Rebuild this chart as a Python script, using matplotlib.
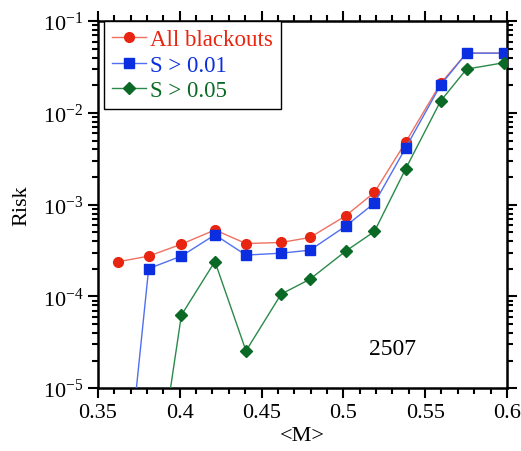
import numpy as np
import matplotlib
matplotlib.use("Agg")
import matplotlib.pyplot as plt
from matplotlib.ticker import FixedLocator, LogLocator, NullFormatter

plt.rcParams['font.family'] = ['Liberation Serif', 'DejaVu Serif']
plt.rcParams['mathtext.fontset'] = 'custom'
plt.rcParams['mathtext.rm'] = 'Liberation Serif'
plt.rcParams['mathtext.it'] = 'Liberation Serif:italic'

# mean loading <M> for each bin
m_all = [0.362, 0.381, 0.401, 0.4215, 0.4405, 0.462, 0.4796, 0.5014, 0.519, 0.538, 0.5595, 0.5753, 0.598]
risk_all = [2.38e-4, 2.75e-4, 3.71e-4, 5.3e-4, 3.77e-4, 3.87e-4, 4.39e-4, 7.55e-4, 1.36e-3, 4.77e-3, 0.0210, 0.0448, 0.0448]

m_s01 = [0.362, 0.381, 0.401, 0.4215, 0.4405, 0.462, 0.4796, 0.5014, 0.519, 0.538, 0.5595, 0.5753, 0.598]
risk_s01 = [1.0e-7, 2.01e-4, 2.75e-4, 4.69e-4, 2.82e-4, 2.96e-4, 3.19e-4, 5.83e-4, 1.04e-3, 4.13e-3, 0.0202, 0.0448, 0.0448]

m_s05 = [0.381, 0.401, 0.4215, 0.4405, 0.462, 0.4796, 0.5014, 0.519, 0.538, 0.5595, 0.5753, 0.598]
risk_s05 = [2.5e-7, 6.25e-5, 2.40e-4, 2.55e-5, 1.06e-4, 1.54e-4, 3.11e-4, 5.1e-4, 2.44e-3, 0.0135, 0.0300, 0.0352]

xticks = [0.35, 0.4, 0.45, 0.5, 0.55, 0.6]
xticklabels = ['0.35', '0.4', '0.45', '0.5', '0.55', '0.6']

fig = plt.figure(figsize=(5.21, 4.52), dpi=100)
fig.subplots_adjust(left=0.188, right=0.973, top=0.951, bottom=0.139)
ax = fig.add_subplot(111)

ax.plot(m_all, risk_all, '-', color='#f07060', lw=1.0, zorder=3)
ax.plot(m_all, risk_all, 'o', color='#e82510', ms=7, mec='#e82510', zorder=3.1)
ax.plot(m_s01, risk_s01, '-', color='#5070f0', lw=1.0, zorder=4)
ax.plot(m_s01, risk_s01, 's', color='#0a2ee0', ms=7, zorder=4.1)
ax.plot(m_s05, risk_s05, '-', color='#2a8a4a', lw=1.0, zorder=5)
ax.plot(m_s05, risk_s05, 'D', color='#0a6a25', ms=6.5, zorder=5.1)

# legend proxies
h1, = ax.plot([], [], '-o', color='#f07060', mfc='#e82510', mec='#e82510', ms=7, lw=1.0)
h2, = ax.plot([], [], '-s', color='#5070f0', mfc='#0a2ee0', mec='#0a2ee0', ms=7, lw=1.0)
h3, = ax.plot([], [], '-D', color='#2a8a4a', mfc='#0a6a25', mec='#0a6a25', ms=6.5, lw=1.0)
leg = ax.legend([h1, h2, h3], ['All blackouts', 'S > 0.01', 'S > 0.05'],
                loc='upper left', bbox_to_anchor=(0.015, 1.0), fontsize=16.5,
                handlelength=1.5, handletextpad=0.15, borderpad=0.35,
                labelspacing=0.2, fancybox=False, framealpha=1,
                edgecolor='black', borderaxespad=0.0)
leg.get_frame().set_linewidth(1.0)
for txt, c in zip(leg.get_texts(), ['#e82510', '#0a2ee0', '#0a6a25']):
    txt.set_color(c)

ax.set_yscale('log')
ax.set_xlim(0.35, 0.6)
ax.set_ylim(1e-5, 1e-1)

ax.xaxis.set_major_locator(FixedLocator(xticks))
ax.set_xticklabels(xticklabels)
ax.xaxis.set_minor_locator(FixedLocator(np.arange(0.35, 0.6001, 0.01)))
ax.yaxis.set_major_locator(LogLocator(base=10, numticks=10))
ax.yaxis.set_minor_locator(LogLocator(base=10, subs=np.arange(2, 10), numticks=10))
ax.yaxis.set_minor_formatter(NullFormatter())

ax.tick_params(which='both', direction='out', top=True, right=True, width=1.5,
               labelsize=16)
ax.tick_params(which='major', length=7)
ax.tick_params(which='minor', length=4)
for s in ax.spines.values():
    s.set_linewidth(1.8)

ax.set_xlabel('<M>', fontsize=16, labelpad=3)
ax.set_ylabel('Risk', fontsize=16, labelpad=8)

ax.text(0.530, 2.7e-5, '2507', fontsize=17, ha='center', va='center')

fig.savefig('out.png', dpi=100)
